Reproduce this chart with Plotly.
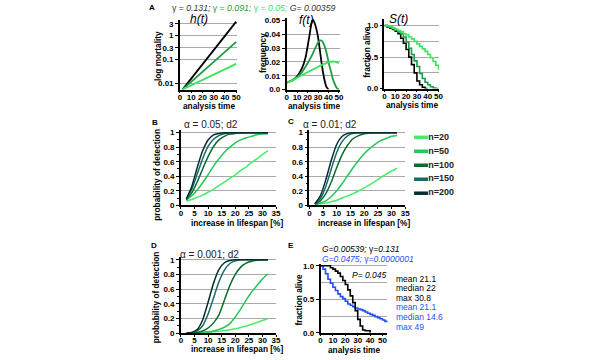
import plotly.graph_objects as go

W, H = 600, 360
def fx(p): return p / W
def fy(p): return 1 - p / H

FONT = "Liberation Sans, Arial, sans-serif"

# ---------------- Panel A data ----------------
A_names = ["γ = 0.131", "γ = 0.091", "γ = 0.05"]
A_colors = ["#000000", "#1e9b43", "#3ee25f"]

h_time = [2.5, 50]
h_black = [0.0058, 3.7]
h_dkgreen = [0.0058, 0.54]
h_ltgreen = [0.0058, 0.066]

f_time_black = [0, 5, 10, 15, 18, 20, 22, 24, 25, 26, 28, 30, 32, 34, 36, 38, 40]
f_black = [0.005, 0.0065, 0.0095, 0.016, 0.023, 0.031, 0.040, 0.049, 0.0505, 0.0495, 0.045, 0.038, 0.027, 0.016, 0.0075, 0.002, 0.0]
f_time_dk = [0, 5, 10, 15, 20, 25, 28, 30, 32, 34, 36, 38, 40, 42, 44, 46, 48, 50]
f_dkgreen = [0.005, 0.0065, 0.009, 0.013, 0.019, 0.026, 0.031, 0.034, 0.0355, 0.035, 0.032, 0.027, 0.020, 0.014, 0.008, 0.004, 0.001, 0.0]
f_time_lt = [0, 5, 10, 15, 20, 25, 30, 35, 40, 44, 47, 50]
f_ltgreen = [0.005, 0.0065, 0.0085, 0.0105, 0.0125, 0.0145, 0.0165, 0.0182, 0.0196, 0.0203, 0.0201, 0.019]

s_time = [0, 2.5, 5, 7.5, 10, 12.5, 15, 17.5, 20, 22.5, 25, 27.5, 30, 32.5, 35, 37.5, 40, 42.5, 45, 47.5, 50]
s_black = [1.0, 0.98, 0.96, 0.94, 0.91, 0.87, 0.80, 0.72, 0.62, 0.50, 0.38, 0.25, 0.12, 0.06, 0.02, 0.0, 0.0, None, None, None, None]
s_dkgreen = [1.0, 0.99, 0.97, 0.95, 0.93, 0.90, 0.87, 0.82, 0.74, 0.64, 0.54, 0.44, 0.35, 0.24, 0.16, 0.10, 0.06, 0.03, 0.01, 0.0, 0.0]
s_ltgreen = [1.0, 0.99, 0.98, 0.96, 0.94, 0.92, 0.90, 0.87, 0.85, 0.82, 0.79, 0.75, 0.71, 0.67, 0.63, 0.59, 0.54, 0.49, 0.43, 0.37, 0.30]

# ---------------- Power panels B, C, D ----------------
n_names = ["n=20", "n=50", "n=100", "n=150", "n=200"]
n_colors = ["#44ee66", "#22c955", "#0c6b2c", "#176b6b", "#062d2d"]
pow_x = [2, 4, 6, 8, 10, 12, 14, 16, 18, 20, 22, 24, 26, 28, 30, 32]

B_vals = [
    [0.06, 0.08, 0.11, 0.14, 0.18, 0.22, 0.27, 0.32, 0.37, 0.42, 0.48, 0.53, 0.59, 0.64, 0.70, 0.75],
    [0.07, 0.13, 0.21, 0.31, 0.42, 0.54, 0.64, 0.73, 0.80, 0.86, 0.90, 0.93, 0.95, 0.97, 0.98, 0.985],
    [0.08, 0.17, 0.32, 0.50, 0.67, 0.81, 0.90, 0.95, 0.98, 0.99, 0.995, 1, 1, 1, 1, 1],
    [0.08, 0.22, 0.43, 0.64, 0.81, 0.91, 0.96, 0.985, 0.995, 1, 1, 1, 1, 1, 1, 1],
    [0.09, 0.26, 0.52, 0.75, 0.90, 0.97, 0.99, 1, 1, 1, 1, 1, 1, 1, 1, 1],
]
C_vals = [
    [0.01, 0.02, 0.03, 0.05, 0.07, 0.10, 0.13, 0.16, 0.20, 0.24, 0.28, 0.33, 0.38, 0.43, 0.47, 0.51],
    [0.01, 0.03, 0.06, 0.12, 0.20, 0.30, 0.41, 0.52, 0.62, 0.71, 0.78, 0.84, 0.89, 0.92, 0.95, 0.96],
    [0.015, 0.06, 0.16, 0.32, 0.52, 0.70, 0.83, 0.92, 0.96, 0.985, 0.995, 1, 1, 1, 1, 1],
    [0.02, 0.09, 0.26, 0.50, 0.73, 0.88, 0.96, 0.99, 1, 1, 1, 1, 1, 1, 1, 1],
    [0.02, 0.13, 0.35, 0.62, 0.84, 0.95, 0.99, 1, 1, 1, 1, 1, 1, 1, 1, 1],
]
D_vals = [
    [0.0, 0.0, 0.003, 0.007, 0.012, 0.018, 0.026, 0.035, 0.046, 0.06, 0.077, 0.097, 0.12, 0.145, 0.172, 0.2],
    [0.0, 0.002, 0.005, 0.01, 0.018, 0.03, 0.05, 0.08, 0.13, 0.22, 0.33, 0.45, 0.56, 0.65, 0.74, 0.81],
    [0.0, 0.003, 0.01, 0.03, 0.07, 0.14, 0.25, 0.45, 0.65, 0.80, 0.90, 0.955, 0.98, 0.995, 1, 1],
    [0.0, 0.005, 0.03, 0.10, 0.26, 0.48, 0.70, 0.86, 0.95, 0.985, 1, 1, 1, 1, 1, 1],
    [0.0, 0.01, 0.05, 0.18, 0.42, 0.68, 0.87, 0.96, 0.99, 1, 1, 1, 1, 1, 1, 1],
]

# ---------------- Panel E ----------------
e_time_black = [0, 2, 4, 6, 8, 10, 12, 14, 16, 18, 20, 22, 24, 26, 28, 30, 32, 34, 36, 38, 40]
e_black = [1.0, 1.0, 1.0, 1.0, 0.97, 0.95, 0.92, 0.89, 0.84, 0.78, 0.72, 0.64, 0.55, 0.45, 0.33, 0.20, 0.10, 0.04, 0.03, 0.03, 0.0]
e_time_blue = [0, 2, 4, 6, 8, 10, 12, 14, 16, 18, 20, 22, 24, 26, 28, 30, 32, 34, 36, 38, 40, 42, 44, 46, 48, 50, 52, 54]
e_blue = [1.0, 0.95, 0.88, 0.80, 0.74, 0.68, 0.63, 0.58, 0.54, 0.51, 0.47, 0.43, 0.41, 0.39, 0.37, 0.355, 0.345, 0.33, 0.31, 0.29, 0.275, 0.26, 0.24, 0.225, 0.21, 0.19, 0.17, 0.155]
e_stats_black = ["mean 21.1", "median 22", "max 30.8"]
e_stats_blue = ["mean 21.1", "median 14.6", "max 49"]

BLUE = "#1f4fff"
GRID = "#a9a9a9"

fig = go.Figure()

# A: h(t)
for vals, c in zip([h_black, h_dkgreen, h_ltgreen], A_colors):
    fig.add_trace(go.Scatter(x=h_time, y=vals, mode="lines", line=dict(color=c, width=1.8),
                             xaxis="x", yaxis="y", showlegend=False))
# A: f(t)
for t, vals, c in zip([f_time_black, f_time_dk, f_time_lt], [f_black, f_dkgreen, f_ltgreen], A_colors):
    fig.add_trace(go.Scatter(x=t, y=vals, mode="lines", line=dict(color=c, width=1.8, shape="spline", smoothing=0.6),
                             xaxis="x2", yaxis="y2", showlegend=False))
# A: S(t)
for vals, c in zip([s_black, s_dkgreen, s_ltgreen], A_colors):
    fig.add_trace(go.Scatter(x=s_time, y=vals, mode="lines", line=dict(color=c, width=1.6, shape="hv"),
                             xaxis="x3", yaxis="y3", showlegend=False))

# B, C, D
for (vals_set, xa, ya) in [(B_vals, "x4", "y4"), (C_vals, "x5", "y5"), (D_vals, "x6", "y6")]:
    for vals, c in zip(vals_set, n_colors):
        fig.add_trace(go.Scatter(x=pow_x, y=vals, mode="lines",
                                 line=dict(color=c, width=1.5, shape="spline", smoothing=0.6),
                                 xaxis=xa, yaxis=ya, showlegend=False))

# E
fig.add_trace(go.Scatter(x=e_time_blue, y=e_blue, mode="lines", line=dict(color=BLUE, width=1.6, shape="hv"),
                         xaxis="x7", yaxis="y7", showlegend=False))
fig.add_trace(go.Scatter(x=e_time_black, y=e_black, mode="lines", line=dict(color="#000", width=1.6, shape="hv"),
                         xaxis="x7", yaxis="y7", showlegend=False))

# Legend drawn as a small chart
fig.add_trace(go.Scatter(x=[0] * len(n_names), y=list(range(len(n_names))), mode="markers+text",
                         marker=dict(symbol="line-ew", size=10, line=dict(width=3.5, color=n_colors)),
                         text=n_names, textposition="middle right",
                         textfont=dict(size=9, color="#222", family=FONT, weight="bold"),
                         cliponaxis=False, xaxis="x8", yaxis="y8", showlegend=False))

tickfont = dict(size=8, family=FONT, color="#000", weight="bold")

def xax(dom, rng, tickvals=None, dtick=None):
    d = dict(domain=[fx(dom[0]), fx(dom[1])], range=rng, showline=True, linecolor="#000", linewidth=1.5,
             ticks="outside", ticklen=2, tickwidth=1.2, tickcolor="#000", showgrid=False, zeroline=False,
             tickfont=tickfont, tickangle=0, ticklabelstandoff=-3, fixedrange=True)
    if tickvals is not None:
        d["tickvals"] = tickvals
    if dtick is not None:
        d["tick0"] = 0
        d["dtick"] = dtick
    return d

def yax(dom, rng, anchor, **kw):
    d = dict(domain=[fy(dom[0]), fy(dom[1])], range=rng, anchor=anchor, showline=True, linecolor="#000",
             linewidth=1.5, ticks="outside", ticklen=3, tickwidth=1.2, tickcolor="#000", zeroline=False,
             gridcolor=GRID, gridwidth=1.4, tickfont=tickfont, fixedrange=True)
    d.update(kw)
    return d

layout = dict(
    width=W, height=H, margin=dict(l=0, r=0, t=0, b=0),
    paper_bgcolor="white", plot_bgcolor="rgba(0,0,0,0)",
    font=dict(family=FONT, color="#000"),
    showlegend=False,
)
# A panels
layout["xaxis"] = xax([180, 238.1], [0, 51], tickvals=[0, 10, 20, 30, 40, 50]) | dict(anchor="y")
layout["yaxis"] = yax([89.3, 18], [-2.244, 0.65], "x", type="log", tickvals=[0.01, 0.1, 0.3, 1, 3],
                      ticktext=["0.01", "0.1", "0.3", "1", "3"], showgrid=True)
layout["xaxis2"] = xax([288, 341.5], [0, 50.5], tickvals=[0, 10, 20, 30, 40, 50]) | dict(anchor="y2")
layout["yaxis2"] = yax([89.3, 16], [0, 0.052], "x2", tickvals=[0, 0.01, 0.02, 0.03, 0.04, 0.05],
                       ticktext=["0.0", "0.01", "0.02", "0.03", "0.04", "0.05"], showgrid=False,
                       minor=dict(tickvals=[0.01, 0.02, 0.03, 0.04], showgrid=True, gridcolor=GRID, gridwidth=1.4, ticks=""))
layout["xaxis3"] = xax([387, 442.5], [0, 50.75], tickvals=[0, 10, 20, 30, 40, 50]) | dict(anchor="y3")
layout["yaxis3"] = yax([88.3, 17], [0, 1.11], "x3", tickvals=[0, 0.5, 1.0], ticktext=["0.0", "0.5", "1.0"],
                       showgrid=False,
                       minor=dict(tickvals=[0.25, 0.5, 0.75, 1.0], showgrid=True, gridcolor=GRID, gridwidth=1.4, ticks=""))
# B, C, D
for i, xd, yd, yr in [(4, [181, 277.3], [207.3, 130.3], [0, 1.04]),
                      (5, [311, 408], [207.3, 130.3], [0, 1.04]),
                      (6, [181, 277.3], [337.7, 260.3], [0, 1.035])]:
    layout[f"xaxis{i}"] = xax(xd, [0, 35], dtick=5) | dict(anchor=f"y{i}")
    layout[f"yaxis{i}"] = yax(yd, yr, f"x{i}", tick0=0, dtick=0.2, showgrid=True,
                              minor=dict(dtick=0.1, ticks="outside", ticklen=2, tickcolor="#000", showgrid=False))
# E
layout["xaxis7"] = xax([322.3, 390], [0, 54], tickvals=[0, 10, 20, 30, 40, 50]) | dict(anchor="y7")
layout["yaxis7"] = yax([337.3, 266.7], [0, 1.034], "x7", tickvals=[0, 0.5, 1.0], ticktext=["0.0", "0.5", "1.0"],
                       showgrid=False,
                       minor=dict(tickvals=[0.25, 0.5, 0.75, 1.0], showgrid=True, gridcolor=GRID, gridwidth=1.4, ticks=""))
# Legend axis
layout["xaxis8"] = dict(domain=[fx(414), fx(474)], range=[-0.5, 2.5], visible=False, anchor="y8", fixedrange=True)
layout["yaxis8"] = dict(domain=[fy(195), fy(138)], range=[4, 0], visible=False, anchor="x8", fixedrange=True)

fig.update_layout(**layout)

anns = []
def ann(text, x, y, size=8.3, color="#000", xanchor="center", yanchor="middle", angle=0, weight="normal"):
    anns.append(dict(text=text, x=fx(x), y=fy(y), xref="paper", yref="paper", showarrow=False,
                     xanchor=xanchor, yanchor=yanchor, textangle=angle, borderpad=0,
                     font=dict(size=size, color=color, family=FONT, weight=weight)))

# panel letters
for L, x, y in [("A", 152, 6), ("B", 155, 123), ("C", 292, 122), ("D", 154, 248), ("E", 292, 248)]:
    ann(L, x, y, size=8, weight="bold")

# top gamma line
ann("γ = <i>0.131;</i> <span style='color:%s'>γ = <i>0.091;</i></span> <span style='color:%s'>γ = <i>0.05;</i></span> <i>G= 0.00359</i>"
    % (A_colors[1], A_colors[2]), 254, 6, size=8.7, color="#333")

# panel titles A
ann("<i>h(t)</i>", 199, 17, size=12)
ann("<i>f(t)</i>", 308, 18, size=12)
ann("<i>S(t)</i>", 401, 17, size=12)

# axis titles
ann("log mortality", 158, 55, angle=-90, weight="bold")
ann("frequency", 264, 52, angle=-90, weight="bold")
ann("fraction alive", 369, 51, angle=-90, weight="bold")
ann("analysis time", 210, 106, weight="bold")
ann("analysis time", 316, 106, weight="bold")
ann("analysis time", 415, 105, weight="bold")
ann("probability of detection", 156, 176, angle=-90, weight="bold")
ann("probability of detection", 156, 301, angle=-90, weight="bold")
ann("increase in lifespan [%]", 238, 225, weight="bold")
ann("increase in lifespan [%]", 366, 225, weight="bold")
ann("increase in lifespan [%]", 238, 353.5, weight="bold")
ann("fraction alive", 301, 303, angle=-90, weight="bold")
ann("analysis time", 357, 354.5, weight="bold")

# alpha labels
ann("α = 0.05; d2", 183, 125, size=10, color="#222", xanchor="left")
ann("α = 0.01; d2", 304, 125, size=10, color="#222", xanchor="left")
ann("α = 0.001; d2", 179, 258, size=10, color="#222", xanchor="left")

# E texts
ann("<i>G=0.00539;</i> γ<i>=0.131</i>", 323, 252, size=8.5, xanchor="left")
ann("<i>G=0.0475;</i> γ<i>=0.0000001</i>", 323, 262, size=8.5, color=BLUE, xanchor="left")
ann("<i>P= 0.045</i>", 391, 278, size=8.5, xanchor="right")
for i, s in enumerate(e_stats_black):
    ann(s, 398, 282 + 9.8 * i, size=8.5, xanchor="left")
for i, s in enumerate(e_stats_blue):
    ann(s, 398, 311.5 + 9.8 * i, size=8.5, color=BLUE, xanchor="left")

fig.update_layout(annotations=anns)
fig.write_html("out.html", config={"displayModeBar": False},
               post_script="document.body.style.margin='0';document.body.style.padding='0';")
